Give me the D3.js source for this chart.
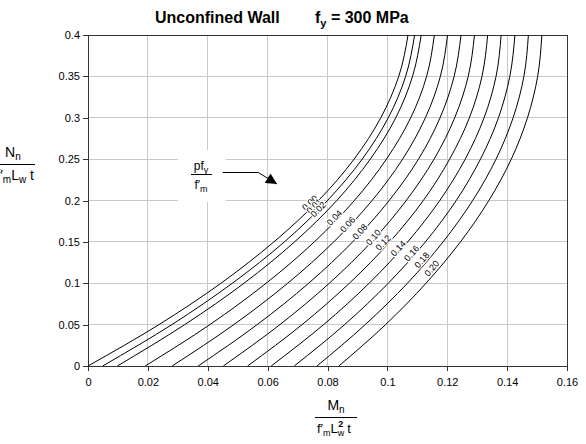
<!DOCTYPE html>
<html>
<head>
<meta charset="utf-8">
<script src="https://cdn.jsdelivr.net/npm/d3@7"></script>
<style>
  body { margin: 0; background: #fff; }
  svg { display: block; font-family: "Liberation Sans", Arial, sans-serif; }
  .grid line { stroke: #c8c8c8; stroke-width: 1; shape-rendering: crispEdges; }
  .axis path, .axis line { stroke: #333; shape-rendering: crispEdges; }
  .axis text { font-size: 11px; fill: #000; font-family: "Liberation Sans", Arial, sans-serif; }
  .curve { fill: none; stroke: #000; stroke-width: 1; }
  .clabel { font-size: 9px; fill: #000; stroke: #fff; stroke-width: 2.5px; paint-order: stroke; }
</style>
</head>
<body>
<div id="chart"></div>
<script>

  //////////// *** DATA *** ////////////

  var xTicks = [0, 0.02, 0.04, 0.06, 0.08, 0.1, 0.12, 0.14, 0.16];
  var yTicks = [0, 0.05, 0.1, 0.15, 0.2, 0.25, 0.3, 0.35, 0.4];

  // axial load Nn / f'm Lw t where each curve was read
  var axialLoad = [0, 0.05, 0.1, 0.15, 0.2, 0.25, 0.3, 0.35, 0.4];

  // moment Mn / f'm Lw^2 t, one array per p fy / f'm
  var m000 = [0, 0.0237, 0.0444, 0.0621, 0.0770, 0.0889, 0.0978, 0.1038, 0.1069];
  var m001 = [0.0049, 0.0280, 0.0482, 0.0656, 0.0800, 0.0916, 0.1003, 0.1061, 0.1091];
  var m002 = [0.0098, 0.0323, 0.0521, 0.0690, 0.0831, 0.0943, 0.1028, 0.1084, 0.1113];
  var m004 = [0.0191, 0.0407, 0.0595, 0.0756, 0.0890, 0.0997, 0.1078, 0.1131, 0.1157];
  var m006 = [0.0281, 0.0487, 0.0667, 0.0821, 0.0949, 0.1051, 0.1127, 0.1177, 0.1201];
  var m008 = [0.0368, 0.0565, 0.0737, 0.0884, 0.1006, 0.1104, 0.1176, 0.1223, 0.1246];
  var m010 = [0.0452, 0.0641, 0.0806, 0.0947, 0.1063, 0.1156, 0.1225, 0.1270, 0.1291];
  var m012 = [0.0533, 0.0715, 0.0873, 0.1008, 0.1120, 0.1208, 0.1274, 0.1316, 0.1335];
  var m014 = [0.0612, 0.0787, 0.0939, 0.1068, 0.1175, 0.1260, 0.1323, 0.1363, 0.1380];
  var m016 = [0.0689, 0.0857, 0.1003, 0.1127, 0.1230, 0.1311, 0.1371, 0.1409, 0.1426];
  var m018 = [0.0765, 0.0926, 0.1067, 0.1186, 0.1285, 0.1363, 0.1420, 0.1456, 0.1471];
  var m020 = [0.0838, 0.0994, 0.1129, 0.1244, 0.1339, 0.1414, 0.1468, 0.1502, 0.1516];

  var ratioLabels = ["0.00", "0.01", "0.02", "0.04", "0.06", "0.08", "0.10", "0.12", "0.14", "0.16", "0.18", "0.20"];

  // where each ratio label sits (M, N)
  var labelM = [0.0741, 0.0755, 0.0769, 0.0823, 0.0867, 0.0908, 0.0953, 0.0986, 0.1036, 0.1081, 0.1115, 0.1148];
  var labelN = [0.1973, 0.1934, 0.1894, 0.1792, 0.1712, 0.1623, 0.1555, 0.1490, 0.1422, 0.1362, 0.1281, 0.1181];

  var curves = [m000, m001, m002, m004, m006, m008, m010, m012, m014, m016, m018, m020];

  //////////// *** VARIABLES *** ////////////

  var width = 586,
      height = 444;

  var plot = {left: 88, right: 567, top: 35, bottom: 366};

  var x = d3.scaleLinear().domain([0, 0.16]).range([plot.left, plot.right]);
  var y = d3.scaleLinear().domain([0, 0.4]).range([plot.bottom, plot.top]);

  var svg = d3.select("#chart").append("svg")
    .attr("width", width)
    .attr("height", height);

  svg.append("rect").attr("width", width).attr("height", height).attr("fill", "#fff");

  //////////// *** GRID + AXES *** ////////////

  var grid = svg.append("g").attr("class", "grid");

  grid.selectAll(".vx")
    .data(xTicks.slice(1, -1))
    .enter().append("line")
    .attr("x1", function(d) { return x(d); })
    .attr("x2", function(d) { return x(d); })
    .attr("y1", plot.top)
    .attr("y2", plot.bottom);

  grid.selectAll(".hy")
    .data(yTicks.slice(1, -1))
    .enter().append("line")
    .attr("x1", plot.left)
    .attr("x2", plot.right)
    .attr("y1", function(d) { return y(d); })
    .attr("y2", function(d) { return y(d); });

  svg.append("g")
    .attr("class", "axis")
    .attr("transform", "translate(0," + plot.bottom + ")")
    .call(d3.axisBottom(x).tickValues(xTicks).tickSize(5).tickSizeOuter(0).tickPadding(7).tickFormat(d3.format("~g")));

  svg.append("g")
    .attr("class", "axis")
    .attr("transform", "translate(" + plot.left + ",0)")
    .call(d3.axisLeft(y).tickValues(yTicks).tickSize(5).tickSizeOuter(0).tickPadding(3).tickFormat(d3.format("~g")));

  svg.selectAll(".axis .domain").remove();

  svg.append("rect")
    .attr("x", plot.left)
    .attr("y", plot.top)
    .attr("width", plot.right - plot.left)
    .attr("height", plot.bottom - plot.top)
    .attr("fill", "none")
    .attr("stroke", "#333")
    .attr("shape-rendering", "crispEdges");

  //////////// *** CURVES *** ////////////

  svg.append("clipPath").attr("id", "clip")
    .append("rect")
    .attr("x", plot.left).attr("y", plot.top)
    .attr("width", plot.right - plot.left).attr("height", plot.bottom - plot.top);

  var line = d3.line()
    .x(function(d) { return x(d[0]); })
    .y(function(d) { return y(d[1]); })
    .curve(d3.curveMonotoneY);

  svg.append("g")
    .attr("clip-path", "url(#clip)")
    .selectAll(".curve")
    .data(curves)
    .enter().append("path")
    .attr("class", "curve")
    .attr("d", function(c) {
      return line(c.map(function(m, i) { return [m, axialLoad[i]]; }));
    });

  // label angle follows the curve near the label
  function labelAngle(i) {
    var c = curves[i], j = 0;
    while (j < axialLoad.length - 2 && axialLoad[j + 1] <= labelN[i]) j++;
    var dx = x(c[j + 1]) - x(c[j]),
        dy = y(axialLoad[j + 1]) - y(axialLoad[j]);
    return Math.atan2(dy, dx) * 180 / Math.PI;
  }

  svg.selectAll(".clabel")
    .data(ratioLabels)
    .enter().append("text")
    .attr("class", "clabel")
    .attr("text-anchor", "middle")
    .attr("dy", "0.35em")
    .attr("transform", function(d, i) {
      return "translate(" + x(labelM[i]) + "," + y(labelN[i]) + ") rotate(" + labelAngle(i) + ")";
    })
    .text(function(d) { return d; });

  //////////// *** TITLE *** ////////////

  svg.append("text")
    .attr("x", 155).attr("y", 23)
    .attr("font-size", 16).attr("font-weight", "bold")
    .text("Unconfined Wall");

  var t2 = svg.append("text")
    .attr("x", 315).attr("y", 23)
    .attr("font-size", 16).attr("font-weight", "bold");
  t2.append("tspan").text("f");
  t2.append("tspan").attr("font-size", 11).attr("dy", 4).text("y");
  t2.append("tspan").attr("dy", -4).text(" = 300 MPa");

  //////////// *** AXIS TITLES *** ////////////

  // y: Nn / f'm Lw t  (cut at the left edge, as in the original)
  var yNum = svg.append("text").attr("x", 5).attr("y", 157).attr("font-size", 14);
  yNum.append("tspan").text("N");
  yNum.append("tspan").attr("font-size", 10).attr("dy", 3).text("n");

  svg.append("line")
    .attr("x1", -5).attr("x2", 35).attr("y1", 164.5).attr("y2", 164.5)
    .attr("stroke", "#000");

  var yDen = svg.append("text").attr("x", 34).attr("y", 180).attr("font-size", 14).attr("text-anchor", "end");
  yDen.append("tspan").text("f\u2032");
  yDen.append("tspan").attr("font-size", 10).attr("dy", 3).text("m");
  yDen.append("tspan").attr("dy", -3).text("L");
  yDen.append("tspan").attr("font-size", 10).attr("dy", 3).text("w");
  yDen.append("tspan").attr("dy", -3).text(" t");

  // x: Mn / f'm Lw^2 t
  var xNum = svg.append("text").attr("x", 336).attr("y", 410).attr("font-size", 14).attr("text-anchor", "middle");
  xNum.append("tspan").text("M");
  xNum.append("tspan").attr("font-size", 10).attr("dy", 3).text("n");

  svg.append("line")
    .attr("x1", 315).attr("x2", 357).attr("y1", 417.5).attr("y2", 417.5)
    .attr("stroke", "#000");

  var xDen = svg.append("text").attr("x", 317).attr("y", 433).attr("font-size", 13);
  xDen.append("tspan").text("f\u2032");
  xDen.append("tspan").attr("font-size", 9).attr("dy", 3).text("m");
  xDen.append("tspan").attr("dy", -3).text("L");
  var xEnd = 317 + xDen.node().getComputedTextLength();

  svg.append("text").attr("x", xEnd + 0.5).attr("y", 427).attr("font-size", 9).attr("font-weight", "bold").text("2");
  svg.append("text").attr("x", xEnd).attr("y", 436).attr("font-size", 9).text("w");
  svg.append("text").attr("x", xEnd + 9.5).attr("y", 433).attr("font-size", 13).text("t");

  //////////// *** LEGEND NOTE *** ////////////

  svg.append("rect")
    .attr("x", 178).attr("y", 150).attr("width", 48).attr("height", 52)
    .attr("fill", "#fff");

  var pNum = svg.append("text").attr("x", 201).attr("y", 170).attr("font-size", 12).attr("text-anchor", "middle");
  pNum.append("tspan").text("pf");
  pNum.append("tspan").attr("font-size", 9).attr("dy", 3).text("y");

  svg.append("line")
    .attr("x1", 191).attr("x2", 212).attr("y1", 174.5).attr("y2", 174.5)
    .attr("stroke", "#000");

  var pDen = svg.append("text").attr("x", 201).attr("y", 189).attr("font-size", 12).attr("text-anchor", "middle");
  pDen.append("tspan").text("f\u2032");
  pDen.append("tspan").attr("font-size", 9).attr("dy", 3).text("m");

  svg.append("defs").append("marker")
    .attr("id", "arrow")
    .attr("viewBox", "0 0 10 10")
    .attr("refX", 10).attr("refY", 5)
    .attr("markerWidth", 13).attr("markerHeight", 11)
    .attr("markerUnits", "userSpaceOnUse")
    .attr("orient", "auto")
    .append("path")
    .attr("d", "M0,0L10,5L0,10Z")
    .attr("fill", "#000");

  svg.append("path")
    .attr("d", "M222.7,172.5L258.3,172.5L277,184")
    .attr("fill", "none")
    .attr("stroke", "#000")
    .attr("marker-end", "url(#arrow)");

</script>
</body>
</html>
